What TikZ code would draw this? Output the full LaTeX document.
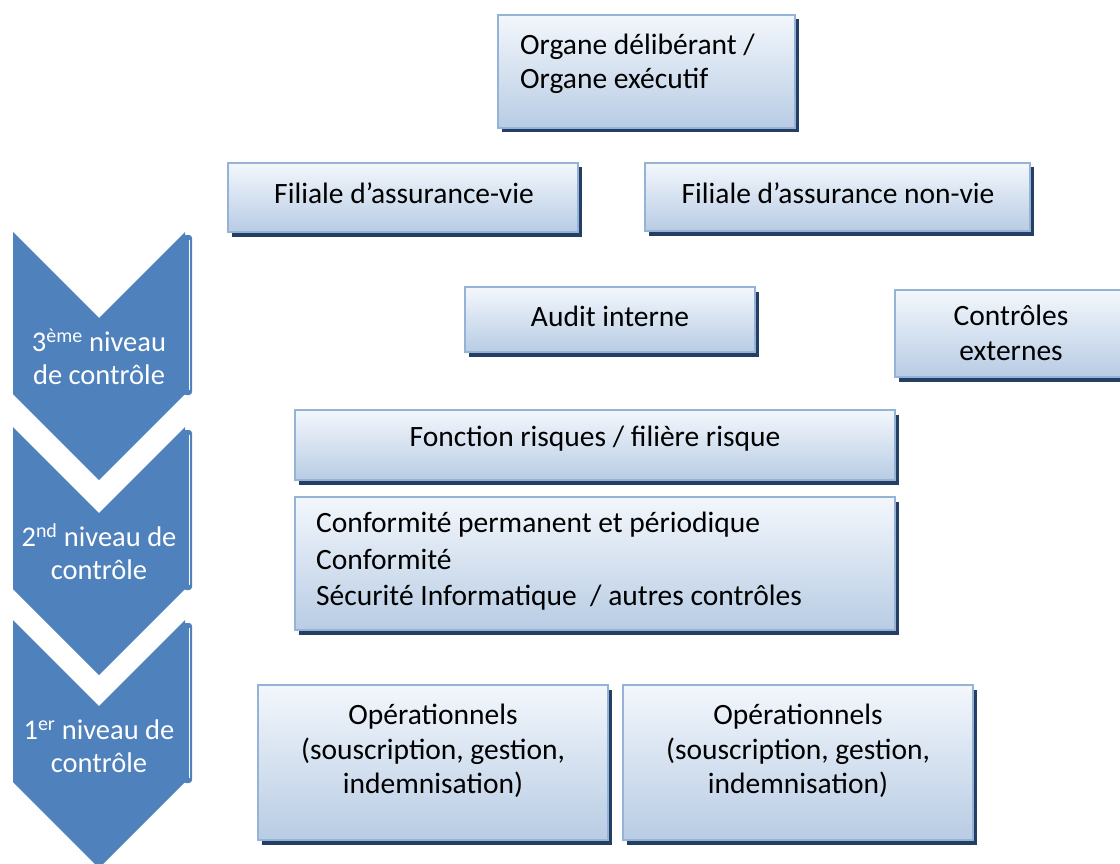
\documentclass[tikz,border=0pt]{standalone}
\usepackage{fontspec}
\setmainfont{Carlito}
\usetikzlibrary{shadows}
\definecolor{chevblue}{HTML}{4F81BD}
\definecolor{boxtop}{HTML}{F3F7FC}
\definecolor{boxbot}{HTML}{B8CCE4}
\definecolor{boxline}{HTML}{95B3D7}
\definecolor{boxshadow}{HTML}{243F63}

\begin{document}
\begin{tikzpicture}[x=1pt, y=-1pt,
    ctlbox/.style={rectangle, draw=boxline, line width=1.5pt, top color=boxtop, bottom color=boxbot,
      drop shadow={shadow xshift=3.5pt, shadow yshift=-4.5pt, fill=boxshadow, opacity=1}, inner sep=0pt},
    boxtext/.style={font=\fontsize{29.5}{34.5}\selectfont, text=black, inner sep=0pt},
    chevtext/.style={font=\fontsize{28.5}{33}\selectfont, text=white, align=center, inner sep=0pt}
    ]
    \useasboundingbox (0,0) rectangle (1120,864);

    \fill [chevblue] (13,232) -- (99,318) -- (185,232) -- (185,394) -- (99,480) -- (13,394) -- cycle;
    \fill [chevblue, rounded corners=3] (183,235) rectangle (192,395);
    \draw [white, line width=1pt] (189,240) -- (189,390);
    \node [chevtext] (l3) at (99,356.5) {3\textsuperscript{ème} niveau\\de contrôle};

    \fill [chevblue] (13,427) -- (99,513) -- (185,427) -- (185,589) -- (99,675) -- (13,589) -- cycle;
    \fill [chevblue, rounded corners=3] (183,430) rectangle (192,590);
    \draw [white, line width=1pt] (189,435) -- (189,585);
    \node [chevtext] (l2) at (99,551.5) {2\textsuperscript{nd} niveau de\\contrôle};

    \fill [chevblue] (13,620) -- (99,706) -- (185,620) -- (185,782) -- (99,868) -- (13,782) -- cycle;
    \fill [chevblue, rounded corners=3] (183,623) rectangle (192,783);
    \draw [white, line width=1pt] (189,628) -- (189,778);
    \node [chevtext] (l1) at (99,746) {1\textsuperscript{er} niveau de\\contrôle};

    \node [ctlbox, minimum width=297, minimum height=113] (b1) at (646.5,71.5) {};
    \node [boxtext, anchor=west, align=left] (t1) at (520,64) {Organe délibérant /\\Organe exécutif};

    \node [ctlbox, minimum width=350, minimum height=69] (b2) at (403,197.5) {};
    \node [boxtext] (t2) at (404,193) {Filiale d’assurance-vie};
    \node [ctlbox, minimum width=385, minimum height=68] (b3) at (837.5,197) {};
    \node [boxtext] (t3) at (838,193) {Filiale d’assurance non-vie};

    \node [ctlbox, minimum width=290, minimum height=65] (b4) at (610,319.5) {};
    \node [boxtext] (t4) at (610,316) {Audit interne};
    \node [ctlbox, minimum width=232, minimum height=87] (b5) at (1011,333.5) {};
    \node [boxtext, align=center] (t5) at (1011,333) {Contrôles\\externes};

    \node [ctlbox, minimum width=600, minimum height=70] (b6) at (595,445) {};
    \node [boxtext] (t6) at (595,439) {Fonction risques / filière risque};
    \node [ctlbox, minimum width=600, minimum height=133] (b7) at (595,563.5) {};
    \node [boxtext, anchor=west, align=left, font=\fontsize{29.5}{36.5}\selectfont] (t7) at (316,561.5)
      {Conformité permanent et périodique\\Conformité\\Sécurité Informatique~ / autres contrôles};

    \node [ctlbox, minimum width=350, minimum height=155] (b8) at (433,762.5) {};
    \node [boxtext, align=center] (t8) at (433,751) {Opérationnels\\(souscription, gestion,\\indemnisation)};
    \node [ctlbox, minimum width=350, minimum height=155] (b9) at (798,762.5) {};
    \node [boxtext, align=center] (t9) at (798,751) {Opérationnels\\(souscription, gestion,\\indemnisation)};
\end{tikzpicture}
\end{document}
